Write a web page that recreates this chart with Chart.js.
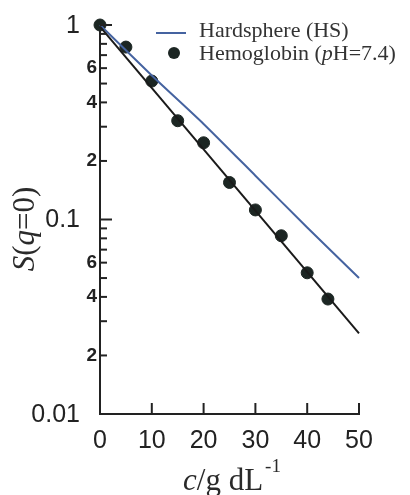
<!DOCTYPE html>
<html>
<head>
<meta charset="utf-8">
<script src="https://cdn.jsdelivr.net/npm/chart.js@4.4.1/dist/chart.umd.min.js"></script>
<style>
  html, body { margin: 0; padding: 0; background: #fff; }
  canvas { display: block; }
</style>
</head>
<body>
<canvas id="myChart" width="410" height="495"></canvas>
<script>
// measured S(q=0) for hemoglobin vs concentration (g/dL)
const hemoConc = [0, 5, 10, 15, 20, 25, 30, 35, 40, 44];
const hemoS = [1.0, 0.77, 0.515, 0.322, 0.248, 0.155, 0.112, 0.0825, 0.0532, 0.039];

// black fit line through the points
const fitConc = [0, 50];
const fitS = [0.98, 0.026];

// hard sphere curve (blue)
const hsConc = [0, 10, 20, 30, 40, 50];
const hsS = [1.0, 0.55, 0.31, 0.168, 0.091, 0.050];

// axis ticks
const xTicks = [0, 10, 20, 30, 40, 50];
const yMajor = [0.01, 0.1, 1];
const yMinor = [0.02, 0.03, 0.04, 0.05, 0.06, 0.07, 0.08, 0.09,
                0.2, 0.3, 0.4, 0.5, 0.6, 0.7, 0.8, 0.9];
const yMajorLabels = ['0.01', '0.1', '1'];
const ySmallTicks = [0.02, 0.04, 0.06, 0.2, 0.4, 0.6];
const ySmallLabels = ['2', '4', '6', '2', '4', '6'];

const axisColor = '#222';
const blue = '#4563a0';
const dark = '#1c2623';

const toXY = (xs, ys) => xs.map((x, i) => ({x: x, y: ys[i]}));

// draws ticks inside the plot, labels, titles and legend
const decor = {
  id: 'decor',
  afterDraw(chart) {
    const ctx = chart.ctx;
    const xs = chart.scales.x;
    const ys = chart.scales.y;
    const area = chart.chartArea;
    ctx.save();
    ctx.strokeStyle = axisColor;
    ctx.lineWidth = 2;

    // x ticks pointing up
    xTicks.forEach(v => {
      if (v === 0) return;
      const px = xs.getPixelForValue(v);
      ctx.beginPath();
      ctx.moveTo(px, area.bottom);
      ctx.lineTo(px, area.bottom - 11);
      ctx.stroke();
    });
    // y ticks pointing right
    yMajor.forEach(v => {
      const py = ys.getPixelForValue(v);
      ctx.beginPath();
      ctx.moveTo(area.left, py);
      ctx.lineTo(area.left + 12, py);
      ctx.stroke();
    });
    yMinor.forEach(v => {
      const py = ys.getPixelForValue(v);
      ctx.beginPath();
      ctx.moveTo(area.left, py);
      ctx.lineTo(area.left + 7, py);
      ctx.stroke();
    });

    // tick labels
    ctx.fillStyle = axisColor;
    ctx.font = "25px 'Liberation Sans', Arial, sans-serif";
    ctx.textAlign = 'center';
    ctx.textBaseline = 'middle';
    xTicks.forEach(v => {
      ctx.fillText(String(v), xs.getPixelForValue(v), 441);
    });
    ctx.textAlign = 'right';
    yMajor.forEach((v, i) => {
      ctx.fillText(yMajorLabels[i], area.left - 20, ys.getPixelForValue(v) + 1);
    });
    ctx.font = "bold 19px 'Liberation Sans', Arial, sans-serif";
    ySmallTicks.forEach((v, i) => {
      ctx.fillText(ySmallLabels[i], area.left - 3, ys.getPixelForValue(v));
    });

    // mixed style text helper
    const serif = "'Liberation Serif', 'Times New Roman', serif";
    const runs = (parts, size) => parts.map(p => {
      ctx.font = (p[1] ? 'italic ' : '') + size + 'px ' + serif;
      return {t: p[0], f: ctx.font, w: ctx.measureText(p[0]).width};
    });

    // y title S(q=0)
    ctx.fillStyle = '#2a2a2a';
    ctx.textAlign = 'left';
    ctx.textBaseline = 'alphabetic';
    let r = runs([['S', true], ['(', false], ['q', true], ['=0)', false]], 31);
    let total = r.reduce((a, b) => a + b.w, 0);
    ctx.save();
    ctx.translate(34, 229);
    ctx.rotate(-Math.PI / 2);
    let x0 = -total / 2;
    r.forEach(p => { ctx.font = p.f; ctx.fillText(p.t, x0, 0); x0 += p.w; });
    ctx.restore();

    // x title c/g dL^-1
    r = runs([['c', true], ['/g dL', false]], 31);
    ctx.font = '19px ' + serif;
    const supW = ctx.measureText('-1').width;
    total = r.reduce((a, b) => a + b.w, 0) + supW + 2;
    x0 = 232 - total / 2;
    r.forEach(p => { ctx.font = p.f; ctx.fillText(p.t, x0, 490); x0 += p.w; });
    ctx.font = '19px ' + serif;
    ctx.fillText('-1', x0 + 2, 472);

    // legend
    const ds = chart.data.datasets;
    ctx.strokeStyle = ds[1].borderColor;
    ctx.lineWidth = 2;
    ctx.beginPath();
    ctx.moveTo(156, 33);
    ctx.lineTo(186, 33);
    ctx.stroke();
    ctx.fillStyle = dark;
    ctx.beginPath();
    ctx.arc(174, 53, 6, 0, Math.PI * 2);
    ctx.fill();
    ctx.fillStyle = '#333';
    ctx.font = '22px ' + serif;
    ctx.fillText(ds[1].label, 199, 37);
    r = runs([['Hemoglobin (', false], ['p', true], ['H=7.4)', false]], 22);
    x0 = 199;
    r.forEach(p => { ctx.font = p.f; ctx.fillText(p.t, x0, 60); x0 += p.w; });

    ctx.restore();
  }
};

const ctx = document.getElementById('myChart').getContext('2d');
const myChart = new Chart(ctx, {
  type: 'scatter',
  data: {
    datasets: [{
      label: 'Fit',
      data: toXY(fitConc, fitS),
      showLine: true,
      borderColor: '#1a1a1a',
      borderWidth: 2,
      pointRadius: 0,
      clip: false
    }, {
      label: 'Hardsphere (HS)',
      data: toXY(hsConc, hsS),
      showLine: true,
      borderColor: blue,
      borderWidth: 2,
      pointRadius: 0,
      tension: 0.2,
      clip: false
    }, {
      label: 'Hemoglobin (pH=7.4)',
      data: toXY(hemoConc, hemoS),
      showLine: false,
      backgroundColor: dark,
      borderColor: dark,
      pointRadius: 6,
      clip: false
    }]
  },
  options: {
    responsive: false,
    devicePixelRatio: 1,
    animation: false,
    layout: { padding: { top: 25, right: 51, left: 0, bottom: 0 } },
    plugins: { legend: { display: false }, tooltip: { enabled: false } },
    scales: {
      x: {
        type: 'linear',
        min: 0,
        max: 50,
        ticks: { display: false },
        grid: { display: false, drawTicks: false },
        border: { display: true, color: axisColor, width: 2 },
        afterFit: s => { s.height = 81; }
      },
      y: {
        type: 'logarithmic',
        min: 0.01,
        max: 1,
        ticks: { display: false },
        grid: { display: false, drawTicks: false },
        border: { display: true, color: axisColor, width: 2 },
        afterFit: s => { s.width = 100; }
      }
    }
  },
  plugins: [decor]
});
</script>
</body>
</html>
